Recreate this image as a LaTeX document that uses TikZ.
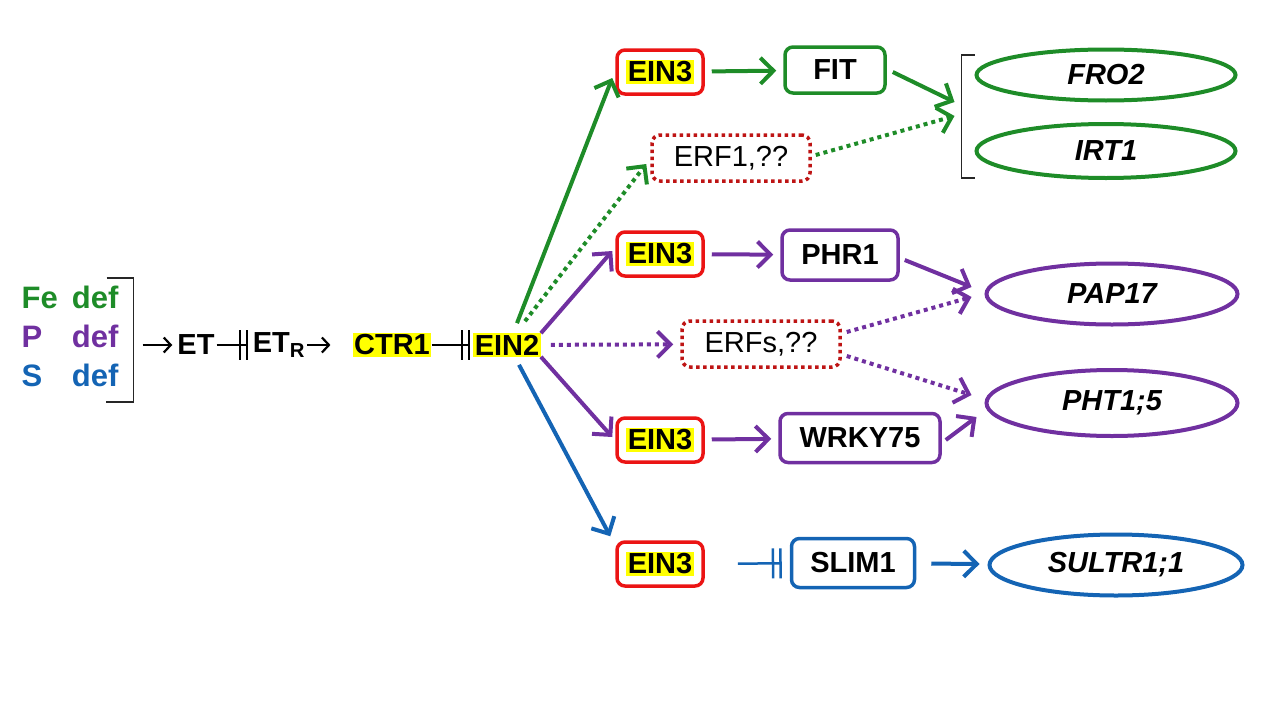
\documentclass[tikz,border=0pt]{standalone}
\usepackage{fontspec}
\setmainfont{Liberation Sans}
\usetikzlibrary{arrows.meta,calc,shapes.geometric}
\definecolor{FeGreen}{RGB}{30,140,40}
\definecolor{PPurple}{RGB}{112,48,160}
\definecolor{SBlue}{RGB}{20,100,180}
\definecolor{BoxRed}{RGB}{235,20,20}
\definecolor{ErfRed}{RGB}{190,20,20}
\definecolor{HlYellow}{RGB}{255,255,0}
\newcommand{\hilite}[1]{{\setlength{\fboxsep}{1.5pt}\colorbox{HlYellow}{#1}}}
\tikzset{
  txt/.style={font=\fontsize{29}{30}\selectfont\bfseries, inner sep=2pt},
  hlnode/.style={txt, fill=HlYellow, inner sep=1.5pt},
  tfbox/.style={txt, draw, rounded corners=8pt, line width=3.5pt, minimum height=46pt},
  ein3box/.style={tfbox, draw=BoxRed, minimum width=86pt, minimum height=44pt},
  erfbox/.style={txt, font=\fontsize{29}{30}\selectfont, draw=ErfRed, rounded corners=8pt,
    line width=3.5pt, dash pattern=on 3.5pt off 3.5pt, minimum width=158pt, minimum height=46pt},
  gene/.style={txt, font=\fontsize{29}{30}\selectfont\bfseries\itshape, ellipse, draw,
    line width=4pt, minimum width=255pt, minimum height=56pt},
  brk/.style={line width=1.5pt, draw=black!85},
  act/.style={line width=4pt, -{Straight Barb[length=13pt,width=26pt]}},
  dotact/.style={act, dash pattern=on 4pt off 4pt},
  chainact/.style={line width=2.2pt, -{Straight Barb[length=7pt,width=15pt]}},
  inhib/.style={line width=2pt, -{Bar[width=30pt,sep=5pt]Bar[width=30pt]}}
}
\begin{document}
\begin{tikzpicture}[x=1pt,y=1pt,yscale=-1]
\useasboundingbox (0,0) rectangle (1280,720);

% deficiency signals
\node[txt, font=\fontsize{31}{39}\selectfont\bfseries, inner sep=0pt] (defs) at (70,340)
  {\begin{tabular}{@{}l@{\hspace{14pt}}l@{}}
   \textcolor{FeGreen}{Fe} & \textcolor{FeGreen}{def}\\
   \textcolor{PPurple}{P} & \textcolor{PPurple}{def}\\
   \textcolor{SBlue}{S} & \textcolor{SBlue}{def}
   \end{tabular}};
\draw[brk] ($(defs.east)+(-12,-62)$) -| ($(defs.east)+(15,62)$) -- ++(-28,0);

% ethylene chain
\node[txt] (et) at (196,345) {ET};
\node[txt] (etr) at (279,345) {ET\textsubscript{R}};
\node[hlnode] (ctr1) at (392,345) {CTR1};
\node[hlnode] (ein2) at (507,345) {EIN2};
\draw[chainact, shorten >=3pt] ($(defs.east |- et)+(24,0)$) -- (et);
\draw[inhib, shorten >=3pt] (et) -- (etr);
\draw[chainact, shorten >=22pt] (etr) -- (ctr1);
\draw[inhib, shorten >=3pt] (ctr1) -- (ein2);

% Fe branch
\node[ein3box] (ein3a) at (660,72) {\hilite{EIN3}};
\node[tfbox, draw=FeGreen, minimum width=100pt] (fit) at (835,70) {FIT};
\node[erfbox] (erf1) at (731,158) {ERF1,??};
\node[gene, draw=FeGreen, minimum width=259pt, minimum height=51pt] (fro2) at (1106,75) {FRO2};
\node[gene, draw=FeGreen, minimum width=259pt, minimum height=54pt] (irt1) at (1106,151) {IRT1};
\draw[brk] ($(fro2.west)+(0,-20)$) -- ++(-13,0) |- ($(irt1.west)+(0,27)$);
\coordinate (fetop) at ($(fro2.west)+(-20,27)$);
\coordinate (febot) at ($(irt1.west)+(-20,-35)$);
\draw[act, FeGreen] ($(ein2.north)+(10,-10)$) -- ($(ein3a.west)+(-3,6)$);
\draw[dotact, FeGreen] ($(ein2.north)+(18,-12)$) -- ($(erf1.west)+(-4,6)$);
\draw[act, FeGreen, shorten <=7pt, shorten >=7pt] (ein3a) -- (fit);
\draw[act, FeGreen] ($(fit.east)+(6,2)$) -- (fetop);
\draw[dotact, FeGreen] ($(erf1.east)+(4,-3)$) -- (febot);

% P branch
\node[ein3box] (ein3b) at (660,254) {\hilite{EIN3}};
\node[tfbox, draw=PPurple, minimum width=116pt, minimum height=50pt] (phr1) at (840,255) {PHR1};
\node[erfbox] (erfs) at (761,344) {ERFs,??};
\node[gene, draw=PPurple, minimum width=251pt, minimum height=61pt] (pap17) at (1112,294) {PAP17};
\node[gene, draw=PPurple, minimum width=251pt, minimum height=66pt] (pht15) at (1112,403) {PHT1;5};
\node[ein3box] (ein3c) at (660,440) {\hilite{EIN3}};
\node[tfbox, draw=PPurple, minimum width=160pt, minimum height=49pt] (wrky75) at (860,438) {WRKY75};
\draw[act, PPurple] (ein2.north east) -- ($(ein3b.west)+(-3,-3)$);
\draw[act, PPurple] (ein2.south east) -- ($(ein3c.west)+(-3,-3)$);
\draw[dotact, PPurple, shorten <=10pt, shorten >=7pt] (ein2) -- (erfs);
\draw[act, PPurple, shorten <=7pt, shorten >=7pt] (ein3b) -- (phr1);
\draw[act, PPurple, shorten <=7pt, shorten >=7pt] (ein3c) -- (wrky75);
\draw[act, PPurple] ($(phr1.east)+(5,5)$) -- ($(pap17.west)+(-13,-7)$);
\draw[dotact, PPurple] ($(erfs.east)+(5,-12)$) -- ($(pap17.west)+(-13,3)$);
\draw[dotact, PPurple] ($(erfs.east)+(5,12)$) -- ($(pht15.west)+(-13,-8)$);
\draw[act, PPurple] ($(wrky75.east)+(4,2)$) -- ($(pht15.west)+(-8,14)$);

% S branch
\node[ein3box] (ein3d) at (660,564) {\hilite{EIN3}};
\node[tfbox, draw=SBlue, minimum width=123pt, minimum height=49pt] (slim1) at (853,563) {SLIM1};
\node[gene, draw=SBlue, minimum width=253pt, minimum height=61pt] (sultr) at (1116,565) {SULTR1;1};
\draw[act, SBlue] ($(ein2.south)+(12,8)$) -- ($(ein3d.north west)+(-5,-4)$);
\draw[inhib, SBlue, line width=2.5pt, shorten <=33pt, shorten >=8pt] (ein3d) -- (slim1);
\draw[act, SBlue, shorten <=15pt, shorten >=8pt] (slim1) -- (sultr);

\end{tikzpicture}
\end{document}
